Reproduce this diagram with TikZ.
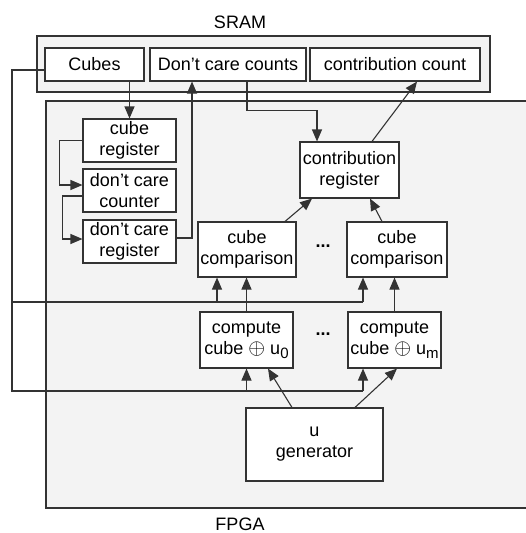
\documentclass[tikz,border=0pt]{standalone}
\usepackage{fontspec}
\setmainfont{Liberation Sans}
\usepackage{tikz}
\usetikzlibrary{arrows.meta, calc}
\definecolor{boardGray}{HTML}{F3F3F3}
\definecolor{lineGray}{HTML}{333333}
\newcommand{\subidx}[1]{\raisebox{-0.45ex}{\fontsize{15}{15}\selectfont #1}}
\newcommand{\xorop}{\scalebox{1.25}{$\oplus$}}
\tikzset{
  unit/.style={draw=lineGray, fill=white, line width=1.1pt, align=center,
    inner sep=0pt, font=\fontsize{18}{21}\selectfont},
  wire/.style={draw=lineGray, line width=1.1pt},
  arr/.style={wire, -{Triangle[length=12pt, width=10pt]}}
}

\begin{document}
\begin{tikzpicture}[x=1pt, y=-1pt]
  \useasboundingbox (0,0) rectangle (526,533);
  \fill[white] (0,0) rectangle (526,533);

  % the two chips
  \filldraw[draw=lineGray, fill=boardGray, line width=1.1pt] (37,36) rectangle (490,92);
  \filldraw[draw=lineGray, fill=boardGray, line width=1.1pt] (46,101) rectangle (540,508);
  \node[font=\fontsize{18}{21}\selectfont] (sramLabel) at (240,22) {SRAM};
  \node[font=\fontsize{18}{21}\selectfont] (fpgaLabel) at (240,524) {FPGA};

  % SRAM contents
  \node[unit, minimum width=99pt, minimum height=33pt] (cubes) at (94.5,64.5) {Cubes};
  \node[unit, minimum width=156pt, minimum height=33pt] (dcc) at (228,64.5) {Don't care counts};
  \node[unit, minimum width=170pt, minimum height=33pt] (ccount) at (395,64.5) {contribution count};

  % FPGA contents
  \node[unit, minimum width=93pt, minimum height=43pt] (creg) at (129.5,140.5) {cube\\register};
  \node[unit, minimum width=93pt, minimum height=43pt] (dcount) at (129.5,190.5) {don't care\\counter};
  \node[unit, minimum width=93pt, minimum height=43pt] (dreg) at (129.5,241.5) {don't care\\register};
  \node[unit, minimum width=99pt, minimum height=56pt] (contrib) at (349.5,170) {contribution\\register};
  \node[unit, minimum width=98pt, minimum height=55pt] (cmpA) at (247,249.5) {cube\\comparison};
  \node[unit, minimum width=100pt, minimum height=55pt] (cmpB) at (397,249.5) {cube\\comparison};
  \node[unit, minimum width=93pt, minimum height=56pt] (compA) at (246.5,340) {compute\\cube \xorop{} u\subidx{0}};
  \node[unit, minimum width=93pt, minimum height=56pt] (compB) at (394.5,340) {compute\\cube \xorop{} u\subidx{m}};
  \node[unit, minimum width=137pt, minimum height=73pt] (ugen) at (314.5,444.5) {u\\generator};
  \node[font=\fontsize{18}{21}\selectfont\bfseries] (dotsA) at (323,246) {...};
  \node[font=\fontsize{18}{21}\selectfont\bfseries] (dotsB) at (323,334) {...};

  \coordinate (busTop) at (12,302);
  \coordinate (busLow) at (12,391);

  % register chain
  \draw[arr] (creg.north |- cubes.south) -- (creg.north);
  \draw[arr] (creg.west) -- ++(-23,0) |- ([yshift=5.5pt]dcount.west);
  \draw[arr] ([yshift=-5.5pt]dcount.west) -- ++(-20,0) |- ([yshift=2.5pt]dreg.west);
  \draw[arr] ([yshift=3.5pt]dreg.east) -| ([xshift=-36pt]dcc.south);
  \draw[arr] ([xshift=19pt]dcc.south) -- ++(0,29) -| ([xshift=-32.5pt]contrib.north);
  \draw[arr] ([xshift=22.5pt]contrib.north) -- ([xshift=22pt]ccount.south);

  % comparisons
  \draw[arr] ([xshift=38pt]cmpA.north) -- ([xshift=-37.5pt]contrib.south);
  \draw[arr] ([xshift=-15pt]cmpB.north) -- ([xshift=20.5pt]contrib.south);
  \draw[arr] (compA.north) -- (compA.north |- cmpA.south);
  \draw[arr] (compB.north) -- (compB.north |- cmpB.south);

  % cube buses
  \draw[wire] ([yshift=-5.5pt]cubes.west) -| (busLow) -- ([xshift=-31.5pt]compB.south |- busLow);
  \draw[wire] (busTop) -- ([xshift=-34pt]cmpB.south |- busTop);
  \draw[arr] ([xshift=-30pt]cmpA.south |- busTop) -- ([xshift=-30pt]cmpA.south);
  \draw[arr] ([xshift=-34pt]cmpB.south |- busTop) -- ([xshift=-34pt]cmpB.south);
  \draw[arr] (compA.south |- busLow) -- (compA.south);
  \draw[arr] ([xshift=-31.5pt]compB.south |- busLow) -- ([xshift=-31.5pt]compB.south);

  % u generator
  \draw[arr] ([xshift=-22.5pt]ugen.north) -- ([xshift=21.5pt]compA.south);
  \draw[arr] ([xshift=40.5pt]ugen.north) -- ([xshift=2.5pt]compB.south);
\end{tikzpicture}
\end{document}
